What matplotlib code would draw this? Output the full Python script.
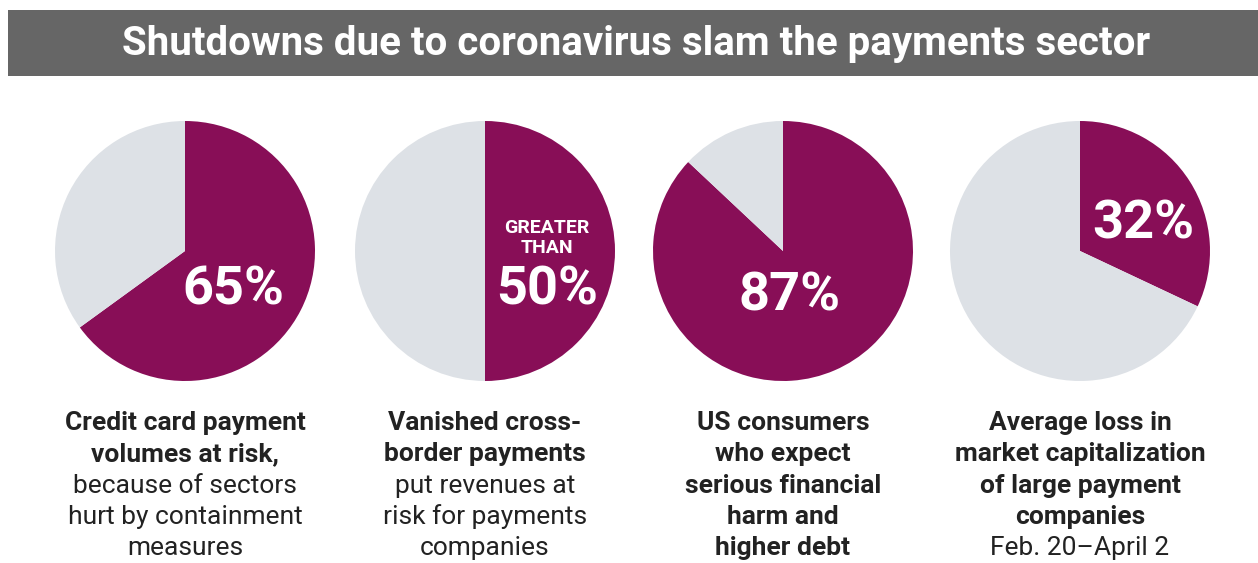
import matplotlib
matplotlib.use("Agg")
import matplotlib.pyplot as plt

# ---- data ----
shares = [65, 50, 87, 32]
pct_labels = ["65%", "50%", "87%", "32%"]
pct_prefix = ["", "GREATER\nTHAN", "", ""]
bold_lines = [
    ["Credit card payment", "volumes at risk,"],
    ["Vanished cross-", "border payments"],
    ["US consumers", "who expect", "serious financial", "harm and", "higher debt"],
    ["Average loss in", "market capitalization", "of large payment", "companies"],
]
normal_lines = [
    ["because of sectors", "hurt by containment", "measures"],
    ["put revenues at", "risk for payments", "companies"],
    [],
    ["Feb. 20\u2013April 2"],
]
title = "Shutdowns due to coronavirus slam the payments sector"

# ---- style ----
W, H = 1258, 563
PURPLE = "#880E57"
LIGHT = "#DDE1E6"
TEXT = "#222222"
plt.rcParams['font.family'] = ['Roboto', 'DejaVu Sans']

fig = plt.figure(figsize=(W / 100, H / 100), dpi=100)
fig.patch.set_facecolor("white")

def fx(x):
    return x / W

def fy(y):
    return 1 - y / H

# title bar
bar = fig.add_axes([fx(8), fy(76), fx(W - 8), (76 - 10) / H])
bar.set_facecolor("#666666")
bar.set_xticks([]); bar.set_yticks([])
for s in bar.spines.values():
    s.set_visible(False)
fig.text(fx(636), fy(44), title, ha="center", va="center", color="white",
         fontsize=29, fontweight="bold")

centers_x = [185, 485, 783, 1080]
cy = 251
R = 130
pct_offsets = [(48, 39), (62, 39), (7, 45), (63, -27)]

for i, (cx, v) in enumerate(zip(centers_x, shares)):
    ax = fig.add_axes([fx(cx - R), fy(cy + R), 2 * R / W, 2 * R / H])
    ax.pie([v, 100 - v], colors=[PURPLE, LIGHT], startangle=90,
           counterclock=False, radius=1.0,
           wedgeprops=dict(linewidth=0))
    ax.set_xlim(-1, 1); ax.set_ylim(-1, 1)
    ax.set_aspect("equal")
    ax.axis("off")
    ox, oy = pct_offsets[i]
    fig.text(fx(cx + ox), fy(cy + oy), pct_labels[i], ha="center", va="center",
             color="white", fontsize=39, fontweight="bold")
    if pct_prefix[i]:
        fig.text(fx(cx + ox), fy(cy - 13), pct_prefix[i], ha="center",
                 va="center", color="white", fontsize=14, fontweight="bold",
                 linespacing=1.2)
    # caption
    lines = [(t, "bold") for t in bold_lines[i]] + [(t, "normal") for t in normal_lines[i]]
    for j, (t, w) in enumerate(lines):
        fig.text(fx(cx), fy(423 + j * 31.3), t, ha="center", va="center",
                 color=TEXT, fontsize=19, fontweight=w)

fig.savefig("out.png", dpi=100)
